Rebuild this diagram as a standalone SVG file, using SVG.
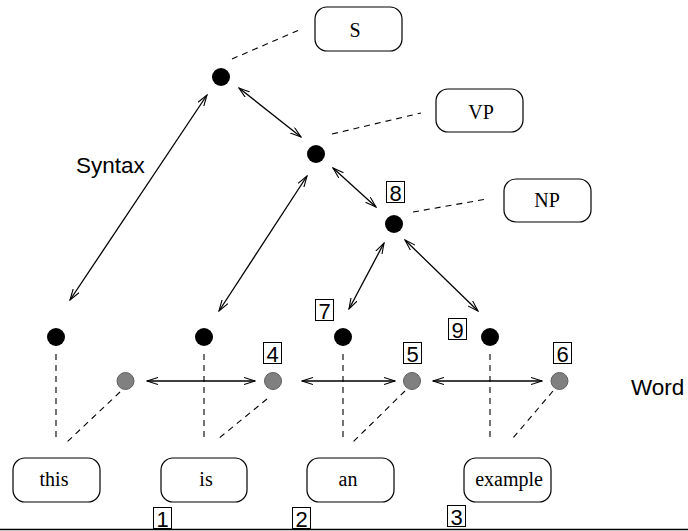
<svg xmlns="http://www.w3.org/2000/svg" width="688" height="531" viewBox="0 0 688 531">
  <style>
    .lbl { fill: #fff; stroke: #000; stroke-width: 1.2; }
    .serif { font-family: "Liberation Serif", "Times New Roman", serif; font-size: 20px; fill: #000; text-anchor: middle; }
    .sans { font-family: "Liberation Sans", Arial, sans-serif; fill: #000; }
    .num { font-family: "Liberation Sans", Arial, sans-serif; font-size: 22px; fill: #000; text-anchor: middle; }
    .numbox { fill: #fff; stroke: #000; stroke-width: 1; }
    .node { fill: #000; }
    .word { fill: #808080; stroke: #606060; stroke-width: 1; }
    .dash { fill: none; stroke: #000; stroke-width: 1.1; stroke-dasharray: 6 5; }
    .arrow { fill: none; stroke: #000; stroke-width: 1.3; marker-start: url(#head); marker-end: url(#head); }
  </style>
  <defs>
    <marker id="head" viewBox="0 0 12 8" refX="11" refY="4" markerWidth="12" markerHeight="8" markerUnits="userSpaceOnUse" orient="auto-start-reverse">
      <path d="M0,0.5 L11,4 L0,7.5" fill="none" stroke="#000" stroke-width="1.1"/>
    </marker>
  </defs>

  <!-- connectors: attachment dashes and dependency arrows -->
  <g id="connectors">
    <line class="dash" x1="232" y1="59" x2="299" y2="30"/>
    <line class="dash" x1="332" y1="134" x2="421" y2="113"/>
    <line class="dash" x1="413" y1="212" x2="487" y2="199"/>

    <line class="dash" x1="56" y1="354" x2="56" y2="440"/>
    <line class="dash" x1="204" y1="354" x2="204" y2="440"/>
    <line class="dash" x1="343" y1="354" x2="343" y2="440"/>
    <line class="dash" x1="490" y1="354" x2="490" y2="440"/>

    <line class="dash" x1="120" y1="392" x2="67" y2="442"/>
    <line class="dash" x1="267" y1="399" x2="218" y2="439"/>
    <line class="dash" x1="405" y1="391" x2="353" y2="442"/>
    <line class="dash" x1="553" y1="391" x2="513" y2="438"/>

    <line class="arrow" x1="207" y1="95" x2="70" y2="300"/>
    <line class="arrow" x1="239" y1="88" x2="301" y2="137"/>
    <line class="arrow" x1="307" y1="176" x2="219" y2="311"/>
    <line class="arrow" x1="333" y1="168" x2="376" y2="207"/>
    <line class="arrow" x1="384" y1="243" x2="349" y2="309"/>
    <line class="arrow" x1="405" y1="240" x2="478" y2="311"/>

    <line class="arrow" x1="147" y1="381" x2="255" y2="381"/>
    <line class="arrow" x1="302" y1="381" x2="395" y2="381"/>
    <line class="arrow" x1="433" y1="381" x2="542" y2="381"/>
  </g>

  <!-- phrase labels -->
  <g id="label-S"><rect class="lbl" x="315" y="7" width="87" height="44" rx="12"/><text class="serif" x="355" y="37">S</text></g>
  <g id="label-VP"><rect class="lbl" x="436" y="89" width="87" height="43" rx="12"/><text class="serif" x="481" y="119">VP</text></g>
  <g id="label-NP"><rect class="lbl" x="504" y="179" width="87" height="43" rx="12"/><text class="serif" x="547" y="207">NP</text></g>

  <!-- syntax nodes -->
  <g id="node-S"><circle class="node" cx="221" cy="77" r="9"/></g>
  <g id="node-VP"><circle class="node" cx="316" cy="154" r="9"/></g>
  <g id="node-NP"><circle class="node" cx="394" cy="224" r="9"/></g>
  <g id="node-this"><circle class="node" cx="56" cy="337" r="9"/></g>
  <g id="node-is"><circle class="node" cx="204" cy="337" r="9"/></g>
  <g id="node-an"><circle class="node" cx="343" cy="337" r="9"/></g>
  <g id="node-example"><circle class="node" cx="490" cy="337" r="9"/></g>

  <!-- word nodes -->
  <g id="word-1"><circle class="word" cx="125.5" cy="381" r="8.5"/></g>
  <g id="word-2"><circle class="word" cx="273" cy="381" r="8.5"/></g>
  <g id="word-3"><circle class="word" cx="412" cy="381" r="8.5"/></g>
  <g id="word-4"><circle class="word" cx="559.5" cy="381" r="8.5"/></g>

  <!-- token labels -->
  <g id="token-this"><rect class="lbl" x="13" y="458" width="87" height="44" rx="12"/><text class="serif" x="54" y="486">this</text></g>
  <g id="token-is"><rect class="lbl" x="161" y="458" width="86" height="44" rx="12"/><text class="serif" x="206" y="486">is</text></g>
  <g id="token-an"><rect class="lbl" x="307" y="458" width="87" height="44" rx="12"/><text class="serif" x="348" y="486">an</text></g>
  <g id="token-example"><rect class="lbl" x="464" y="458" width="87" height="44" rx="12"/><text class="serif" x="509" y="486">example</text></g>

  <!-- numbered tags -->
  <g id="tag-8"><rect class="numbox" x="386.5" y="181.5" width="18" height="21"/><text class="num" x="395.5" y="201">8</text></g>
  <g id="tag-7"><rect class="numbox" x="315.5" y="299.5" width="18" height="21"/><text class="num" x="324.5" y="319">7</text></g>
  <g id="tag-9"><rect class="numbox" x="448.5" y="318.5" width="18" height="21"/><text class="num" x="457.5" y="338">9</text></g>
  <g id="tag-4"><rect class="numbox" x="263.5" y="342.5" width="18" height="21"/><text class="num" x="272.5" y="362">4</text></g>
  <g id="tag-5"><rect class="numbox" x="403.5" y="342.5" width="18" height="21"/><text class="num" x="412.5" y="362">5</text></g>
  <g id="tag-6"><rect class="numbox" x="553.5" y="342.5" width="18" height="21"/><text class="num" x="562.5" y="362">6</text></g>
  <g id="tag-1"><rect class="numbox" x="153.5" y="507.5" width="18" height="21"/><text class="num" x="162.5" y="527">1</text></g>
  <g id="tag-2"><rect class="numbox" x="292.5" y="507.5" width="18" height="21"/><text class="num" x="301.5" y="527">2</text></g>
  <g id="tag-3"><rect class="numbox" x="447.5" y="505.5" width="18" height="21"/><text class="num" x="456.5" y="525">3</text></g>

  <!-- layer captions -->
  <text class="sans" x="76" y="173" font-size="22.5">Syntax</text>
  <text class="sans" x="631" y="395" font-size="22.5">Word</text>

  <!-- base rule -->
  <line x1="0" y1="529.5" x2="688" y2="529.5" stroke="#000" stroke-width="1.6"/>
</svg>
